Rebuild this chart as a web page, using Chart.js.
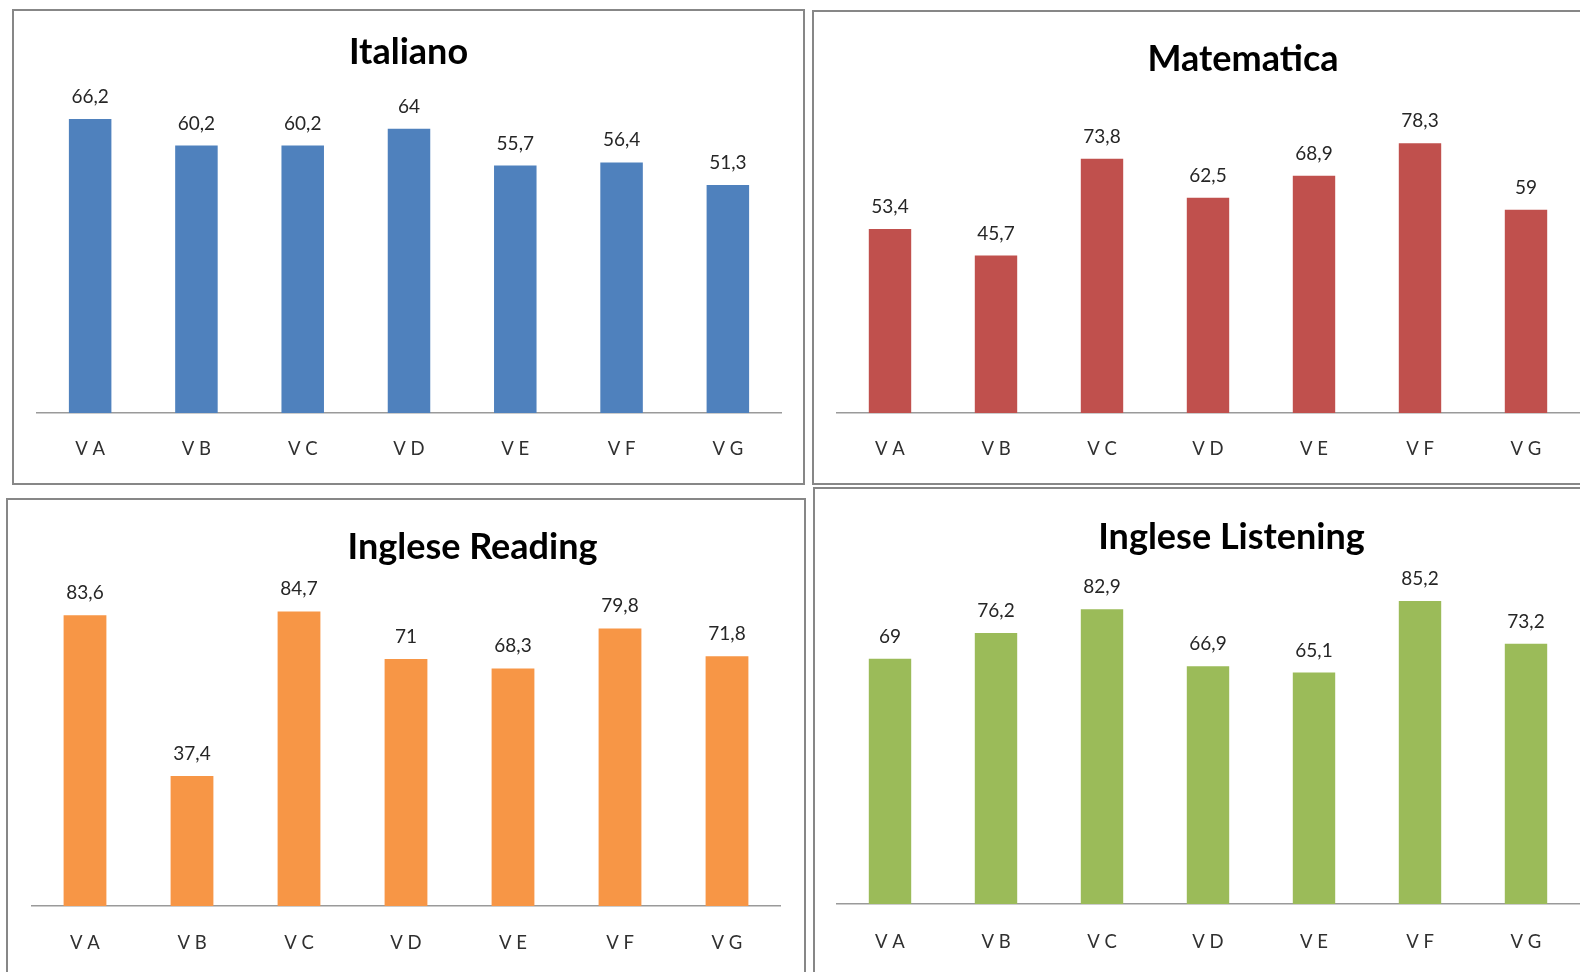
<!DOCTYPE html>
<html>
<head>
<meta charset="utf-8">
<script src="https://cdn.jsdelivr.net/npm/chart.js@4.4.1/dist/chart.umd.min.js"></script>
<style>
  html, body { margin: 0; padding: 0; background: #ffffff; width: 1580px; height: 972px; overflow: hidden; }
  .box { position: absolute; box-sizing: border-box; border: 2px solid #878787; }
  canvas { position: absolute; }
</style>
</head>
<body>
<div class="box" style="left:12px;top:9px;width:793px;height:476px;"></div>
<div class="box" style="left:812px;top:10px;width:900px;height:475px;"></div>
<div class="box" style="left:6px;top:498px;width:800px;height:600px;"></div>
<div class="box" style="left:813px;top:487px;width:900px;height:600px;"></div>
<canvas id="c1"></canvas>
<canvas id="c2"></canvas>
<canvas id="c3"></canvas>
<canvas id="c4"></canvas>
<script>
// ---- data ----
const categories = ['V A', 'V B', 'V C', 'V D', 'V E', 'V F', 'V G'];
const titles = ['Italiano', 'Matematica', 'Inglese Reading', 'Inglese Listening'];
const italiano = [66.2, 60.2, 60.2, 64, 55.7, 56.4, 51.3];
const matematica = [53.4, 45.7, 73.8, 62.5, 68.9, 78.3, 59];
const ingleseReading = [83.6, 37.4, 84.7, 71, 68.3, 79.8, 71.8];
const ingleseListening = [69, 76.2, 82.9, 66.9, 65.1, 85.2, 73.2];
const axisMax = [70, 90, 90, 90];

// ---- styles / layout ----
const colors = ['#4F81BD', '#C0504D', '#F79646', '#9BBB59'];
const series = [italiano, matematica, ingleseReading, ingleseListening];
const layouts = [
  { id: 'c1', l: 12,  t: 9,   w: 793, h: 476, yL: 25,   yR: 24,    padT: 21.4, padB: 28.4, xH: 72, tickPad: 25 },
  { id: 'c2', l: 812, t: 10,  w: 862, h: 475, yL: 25,   yR: 95,    padT: 27.9, padB: 21.9, xH: 72, tickPad: 25 },
  { id: 'c3', l: 6,   t: 498, w: 933, h: 474, yL: 25.5, yR: 158.5, padT: 27.9, padB: 23.9, xH: 66, tickPad: 26 },
  { id: 'c4', l: 813, t: 487, w: 837, h: 485, yL: 24,   yR: 71,    padT: 28.9, padB: 24.9, xH: 68, tickPad: 27 }
];

const valueLabels = {
  id: 'valueLabels',
  afterDatasetsDraw(chart) {
    const ctx = chart.ctx;
    ctx.save();
    ctx.font = '19px Lato';
    ctx.fillStyle = '#262626';
    ctx.textAlign = 'center';
    ctx.textBaseline = 'alphabetic';
    const meta = chart.getDatasetMeta(0);
    const data = chart.data.datasets[0].data;
    meta.data.forEach((bar, i) => {
      const txt = String(data[i]).replace('.', ',');
      ctx.fillText(txt, bar.x, bar.y - 16);
    });
    ctx.restore();
  }
};

layouts.forEach((L, k) => {
  const cv = document.getElementById(L.id);
  cv.width = L.w; cv.height = L.h;
  cv.style.left = L.l + 'px'; cv.style.top = L.t + 'px';
  cv.style.width = L.w + 'px'; cv.style.height = L.h + 'px';
  new Chart(cv, {
    type: 'bar',
    data: {
      labels: categories,
      datasets: [{
        data: series[k],
        backgroundColor: colors[k],
        borderWidth: 0,
        categoryPercentage: 1.0,
        barPercentage: 0.4
      }]
    },
    options: {
      responsive: false,
      animation: false,
      devicePixelRatio: 1,
      layout: { padding: 0 },
      plugins: {
        legend: { display: false },
        tooltip: { enabled: false },
        title: {
          display: true,
          text: titles[k],
          color: '#000000',
          font: { family: 'Lato', size: 36, weight: 'bold', lineHeight: 1.2 },
          padding: { top: L.padT, bottom: L.padB }
        }
      },
      scales: {
        x: {
          position: 'bottom',
          grid: { display: false, drawTicks: false },
          border: { display: true, color: '#9a9a9a', width: 1.5 },
          ticks: {
            color: '#303030',
            padding: L.tickPad,
            font: { family: 'Lato', size: 18.5, lineHeight: 1.2 },
            maxRotation: 0,
            autoSkip: false
          },
          afterFit(s) { s.height = L.xH; }
        },
        y: {
          position: 'left',
          min: 0,
          max: axisMax[k],
          ticks: { display: false },
          grid: { display: false, drawTicks: false },
          border: { display: false },
          afterFit(s) { s.width = L.yL; }
        },
        y2: {
          type: 'linear',
          position: 'right',
          ticks: { display: false },
          grid: { display: false, drawTicks: false },
          border: { display: false },
          afterFit(s) { s.width = L.yR; }
        }
      }
    },
    plugins: [valueLabels]
  });
});
</script>
</body>
</html>
